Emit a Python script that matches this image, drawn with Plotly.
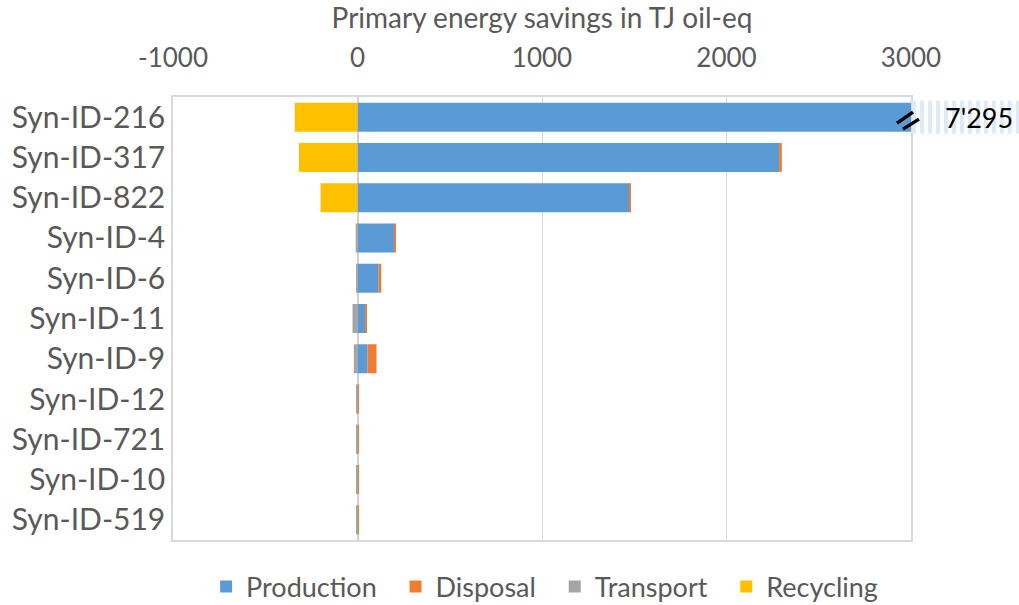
import plotly.graph_objects as go

categories = ["Syn-ID-216", "Syn-ID-317", "Syn-ID-822", "Syn-ID-4", "Syn-ID-6",
              "Syn-ID-11", "Syn-ID-9", "Syn-ID-12", "Syn-ID-721", "Syn-ID-10", "Syn-ID-519"]
production = [7295, 2285, 1475, 200, 115, 43, 54, 0, 0, 0, 0]
disposal = [0, 15, 5, 8, 14, 5, 49, 8, 8, 8, 8]
transport = [0, 0, 0, -10, -3, -27, -20, -4, -4, -4, -4]
recycling = [-340, -317, -200, 0, 0, 0, 0, 0, 0, 0, 0]
x_ticks = [-1000, 0, 1000, 2000, 3000]
x_ticktext = ["-1000", "0", "1000", "2000", "3000"]
axis_max = 3000
broken_label = "{:,}".format(production[0]).replace(",", "'")

colors = {"Production": "#5B9BD5", "Disposal": "#ED7D31",
          "Transport": "#A5A5A5", "Recycling": "#FFC000"}

FONT = "Lato"
GREY = "#595959"
PAD = "\u00a0\u00a0"

fig = go.Figure()
for name, vals in [("Production", production), ("Disposal", disposal),
                   ("Transport", transport), ("Recycling", recycling)]:
    fig.add_trace(go.Bar(y=categories, x=vals, name=name + PAD, orientation="h",
                         marker=dict(color=colors[name], line=dict(width=0))))

fig.update_layout(
    barmode="relative",
    bargap=0.28,
    width=1019, height=605,
    margin=dict(l=171, r=108, t=97, b=65),
    plot_bgcolor="white", paper_bgcolor="white",
    font=dict(family=FONT, color=GREY, size=24),
    legend=dict(orientation="h", x=0.513, xanchor="center",
                yref="container", y=0.03, yanchor="middle",
                traceorder="normal", font=dict(size=27, color=GREY),
                itemwidth=30),
)
fig.update_xaxes(side="top", range=[x_ticks[0], axis_max], tickvals=x_ticks,
                 ticktext=x_ticktext,
                 tickfont=dict(size=26, color=GREY),
                 showgrid=True, gridcolor="#D9D9D9", gridwidth=1,
                 zeroline=True, zerolinecolor="#D0D0D0", zerolinewidth=2,
                 showline=True, linecolor="#D9D9D9", linewidth=2, mirror=True,
                 ticks="", ticklabelstandoff=18,
                 title=dict(text="Primary energy savings in TJ oil-eq",
                            font=dict(size=28, color=GREY), standoff=4))
fig.update_yaxes(autorange="reversed", tickfont=dict(size=30, color=GREY),
                 showline=True, linecolor="#D9D9D9", linewidth=1.5, mirror=True,
                 ticks="", showgrid=False, ticklabelstandoff=0)

# striped "broken" extension of the first bar, beyond the plot area
shapes = []
n_stripes = 14
for i in range(n_stripes):
    x0 = 1.0 + 0.0015 + i * 8 / 740
    shapes.append(dict(type="rect", xref="paper", yref="y", x0=x0, x1=x0 + 4 / 740,
                       y0=-0.41, y1=0.41, fillcolor="#DEEBF7",
                       line=dict(width=0), layer="above"))
# break marker "//"
for (a, b, c, d) in [(-14, -6, 2, 5), (-8, -12, 8, -2)]:
    shapes.append(dict(type="line", xref="paper", yref="y",
                       xsizemode="pixel", xanchor=1.0,
                       ysizemode="pixel", yanchor=0,
                       x0=a, y0=b, x1=c, y1=d,
                       line=dict(color="black", width=3.5), layer="above"))
fig.update_layout(shapes=shapes)

fig.add_annotation(xref="paper", yref="y", x=1.044, y=categories[0], text=broken_label,
                   showarrow=False, xanchor="left", yanchor="middle",
                   font=dict(size=27, color="black", family=FONT))

fig.write_html("out.html", config={"displayModeBar": False},
               post_script="document.body.style.margin='0';")
